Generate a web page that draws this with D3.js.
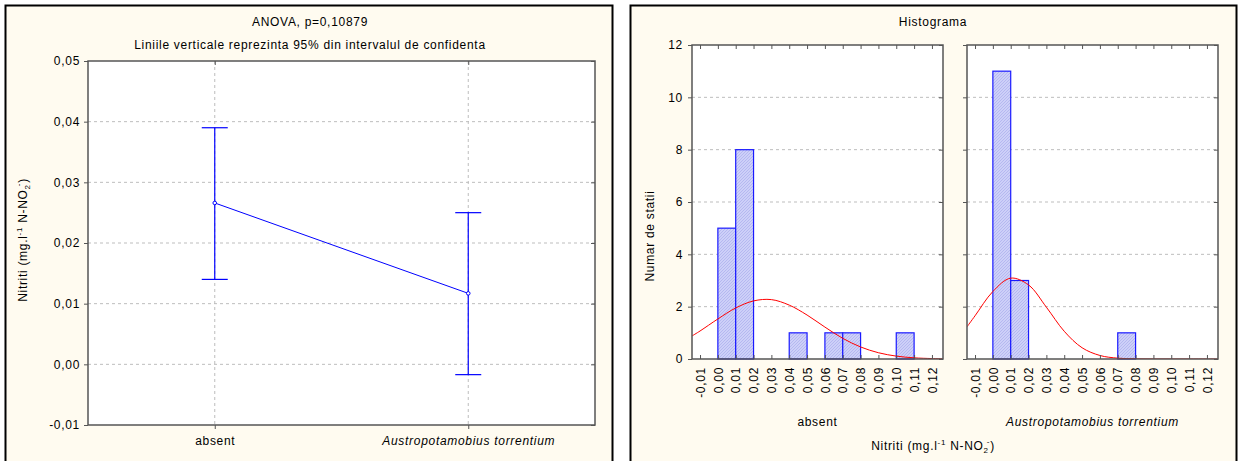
<!DOCTYPE html>
<html><head><meta charset="utf-8">
<script src="https://cdn.jsdelivr.net/npm/d3@7"></script>
<style>
body{margin:0;background:#fff}
text{font-family:Arial,"Liberation Sans",sans-serif;font-size:12px;fill:#000;letter-spacing:0.7px}
</style>
</head><body><svg id="c" width="1239" height="461"></svg>
<script>
// ---------- data ----------
const groups = ["absent", "Austropotamobius torrentium"];
const groupMeans = [0.0266, 0.0117];
const groupLower = [0.0140, -0.0017];
const groupUpper = [0.0390, 0.0250];
const meanTicks = [-0.01, 0.00, 0.01, 0.02, 0.03, 0.04, 0.05];

const binStarts = [0.00, 0.01, 0.02, 0.03, 0.04, 0.05, 0.06, 0.07, 0.08, 0.09, 0.10, 0.11];
const absentCounts = [5, 8, 0, 0, 1, 0, 1, 1, 0, 0, 1, 0];
const torrentiumCounts = [11, 3, 0, 0, 0, 0, 0, 1, 0, 0, 0, 0];
const histXTicks = [-0.01, 0.00, 0.01, 0.02, 0.03, 0.04, 0.05, 0.06, 0.07, 0.08, 0.09, 0.10, 0.11, 0.12];
const histYTicks = [0, 2, 4, 6, 8, 10, 12];

const curveX = [-0.0145, -0.01, 0.00, 0.01, 0.02, 0.03, 0.04, 0.05, 0.06, 0.07, 0.08, 0.09, 0.10, 0.11, 0.12, 0.126];
const absentCurve = [0.88, 1.07, 1.53, 1.95, 2.22, 2.27, 2.06, 1.68, 1.22, 0.79, 0.46, 0.24, 0.11, 0.045, 0.017, 0.008];
const torrentiumCurve = [1.23, 1.65, 2.58, 3.09, 2.83, 1.98, 1.06, 0.43, 0.135, 0.032, 0.006, 0.001, 0, 0, 0, 0];

const panelNames = ["absent", "Austropotamobius torrentium"];

// ---------- drawing ----------
const svg = d3.select("#c");
const cream = "#fffbf0";
const axisCol = "#555";
const gridCol = "#bdbdbd";
const fmt = d => d3.format(".2f")(d).replace(".", ",").replace("\u2212", "-");

// defs: hatch pattern
const defs = svg.append("defs");
const pat = defs.append("pattern").attr("id", "hatch").attr("patternUnits", "userSpaceOnUse")
  .attr("width", 3).attr("height", 3);
pat.append("rect").attr("width", 3).attr("height", 3).attr("fill", "#cdd0f8");
pat.append("path").attr("d", "M0,3 L3,0").attr("stroke", "#aeb2ee").attr("stroke-width", 0.8);

// frames
svg.append("rect").attr("x", 5.5).attr("y", 5.5).attr("width", 607).attr("height", 470)
  .attr("fill", cream).attr("stroke", "#000").attr("stroke-width", 2);
svg.append("rect").attr("x", 630.5).attr("y", 5.5).attr("width", 606).attr("height", 470)
  .attr("fill", cream).attr("stroke", "#000").attr("stroke-width", 2);

// ---------------- LEFT: means plot ----------------
const L = {x0: 88, x1: 595, y0: 61, y1: 425};
const yL = d3.scaleLinear().domain([-0.01, 0.05]).range([L.y1, L.y0]);
const xL = d3.scalePoint().domain(groups).range([L.x0, L.x1]).padding(0.5);

svg.append("rect").attr("x", L.x0).attr("y", L.y0).attr("width", L.x1 - L.x0).attr("height", L.y1 - L.y0)
  .attr("fill", "#fff");

// grid
svg.append("g").selectAll("line").data(meanTicks.slice(1, -1)).join("line")
  .attr("x1", L.x0).attr("x2", L.x1).attr("y1", d => yL(d)).attr("y2", d => yL(d))
  .attr("stroke", gridCol).attr("stroke-dasharray", "3,3");
svg.append("g").selectAll("line").data(groups).join("line")
  .attr("x1", d => xL(d)).attr("x2", d => xL(d)).attr("y1", L.y0).attr("y2", L.y1)
  .attr("stroke", gridCol).attr("stroke-dasharray", "3,3");

// line connecting means
const meanPts = groups.map((g, i) => [xL(g), yL(groupMeans[i])]);
svg.append("path").attr("d", d3.line()(meanPts)).attr("fill", "none").attr("stroke", "#0000ff").attr("stroke-width", 1);

// error bars
const eb = svg.append("g").attr("stroke", "#0000ff").attr("stroke-width", 1.2);
groups.forEach((g, i) => {
  const x = xL(g);
  eb.append("line").attr("x1", x).attr("x2", x).attr("y1", yL(groupLower[i])).attr("y2", yL(groupUpper[i]));
  eb.append("line").attr("x1", x - 13).attr("x2", x + 13).attr("y1", yL(groupLower[i])).attr("y2", yL(groupLower[i]));
  eb.append("line").attr("x1", x - 13).attr("x2", x + 13).attr("y1", yL(groupUpper[i])).attr("y2", yL(groupUpper[i]));
});
svg.append("g").selectAll("circle").data(meanPts).join("circle")
  .attr("cx", d => d[0]).attr("cy", d => d[1]).attr("r", 1.8)
  .attr("fill", "#fff").attr("stroke", "#0000ff").attr("stroke-width", 1);

// border
svg.append("rect").attr("x", L.x0).attr("y", L.y0).attr("width", L.x1 - L.x0).attr("height", L.y1 - L.y0)
  .attr("fill", "none").attr("stroke", axisCol).attr("stroke-width", 1.5);

// axes
svg.append("g").attr("transform", `translate(${L.x0},0)`)
  .call(d3.axisLeft(yL).tickValues(meanTicks).tickFormat(fmt).tickSize(4).tickPadding(4));
const xAxL = svg.append("g").attr("transform", `translate(0,${L.y1})`)
  .call(d3.axisBottom(xL).tickSize(4).tickPadding(7));
svg.append("g").attr("transform", `translate(${L.x1},0)`)
  .call(d3.axisLeft(yL).tickValues(meanTicks).tickFormat("").tickSize(4));
svg.append("g").attr("transform", `translate(0,${L.y0})`)
  .call(d3.axisBottom(xL).tickFormat("").tickSize(4));
svg.selectAll(".domain").remove();
svg.selectAll(".tick line").attr("stroke", axisCol);
svg.selectAll(".tick text").attr("font-size", 12).attr("fill", "#000").attr("font-family", null);
xAxL.selectAll(".tick text").style("font-style", d => d === groups[1] ? "italic" : "normal");

// titles
svg.append("text").attr("x", 310).attr("y", 26).attr("text-anchor", "middle").text("ANOVA, p=0,10879");
svg.append("text").attr("x", 310).attr("y", 49).attr("text-anchor", "middle")
  .text("Liniile verticale reprezinta 95% din intervalul de confidenta");

function nitritLabel(t) {
  t.append("tspan").text("Nitriti (mg.l");
  t.append("tspan").attr("font-size", 8).attr("dy", -5).text("-1");
  t.append("tspan").attr("font-size", 12).attr("dy", 5).text(" N-NO");
  t.append("tspan").attr("font-size", 8).attr("dy", 3).text("2");
  t.append("tspan").attr("font-size", 8).attr("dx", -2).attr("dy", -9).text("-");
  t.append("tspan").attr("font-size", 12).attr("dy", 6).text(")");
}
const ylab = svg.append("text").attr("text-anchor", "middle")
  .attr("transform", "translate(27,240) rotate(-90)");
nitritLabel(ylab);

// ---------------- RIGHT: histograms ----------------
const H = {y0: 45, y1: 359};
const panelsX = [[692, 943], [967, 1218]];
const yH = d3.scaleLinear().domain([0, 12]).range([H.y1, H.y0]);
const countsSets = [absentCounts, torrentiumCounts];
const curveSets = [absentCurve, torrentiumCurve];

svg.append("text").attr("x", 933).attr("y", 26).attr("text-anchor", "middle").text("Histograma");

panelsX.forEach((px, pi) => {
  const xH = d3.scaleLinear().domain([-0.0145, 0.1262]).range(px);
  const g = svg.append("g");
  const cid = "clip" + pi;
  defs.append("clipPath").attr("id", cid).append("rect")
    .attr("x", px[0]).attr("y", H.y0).attr("width", px[1] - px[0]).attr("height", H.y1 - H.y0);

  g.append("rect").attr("x", px[0]).attr("y", H.y0).attr("width", px[1] - px[0]).attr("height", H.y1 - H.y0)
    .attr("fill", "#fff");
  g.append("g").selectAll("line").data(histYTicks.slice(1, -1)).join("line")
    .attr("x1", px[0]).attr("x2", px[1]).attr("y1", d => yH(d)).attr("y2", d => yH(d))
    .attr("stroke", gridCol).attr("stroke-dasharray", "3,3");

  const bins = binStarts.map((b, i) => ({x0: b, x1: b + 0.01, n: countsSets[pi][i]})).filter(d => d.n > 0);
  g.append("g").selectAll("rect").data(bins).join("rect")
    .attr("x", d => xH(d.x0)).attr("width", d => xH(d.x1) - xH(d.x0))
    .attr("y", d => yH(d.n)).attr("height", d => yH(0) - yH(d.n))
    .attr("fill", "url(#hatch)").attr("stroke", "#1a1aff").attr("stroke-width", 1.2);

  const pts = curveX.map((x, i) => [xH(x), yH(curveSets[pi][i])]);
  g.append("path").attr("clip-path", `url(#${cid})`)
    .attr("d", d3.line().curve(d3.curveCatmullRom)(pts))
    .attr("fill", "none").attr("stroke", "#ff0000").attr("stroke-width", 1);

  g.append("rect").attr("x", px[0]).attr("y", H.y0).attr("width", px[1] - px[0]).attr("height", H.y1 - H.y0)
    .attr("fill", "none").attr("stroke", axisCol).attr("stroke-width", 1.5);

  g.append("g").attr("transform", `translate(${px[0]},0)`)
    .call(d3.axisLeft(yH).tickValues(histYTicks).tickFormat(pi === 0 ? d3.format("d") : "").tickSize(4).tickPadding(5));
  g.append("g").attr("transform", `translate(${px[1]},0)`)
    .call(d3.axisLeft(yH).tickValues(histYTicks).tickFormat("").tickSize(4));
  const xa = g.append("g").attr("transform", `translate(0,${H.y1})`)
    .call(d3.axisBottom(xH).tickValues(histXTicks).tickFormat(fmt).tickSize(-4));
  g.append("g").attr("transform", `translate(0,${H.y0})`)
    .call(d3.axisBottom(xH).tickValues(histXTicks).tickFormat("").tickSize(4));
  xa.selectAll(".tick text")
    .attr("transform", "rotate(-90)").attr("x", -8).attr("y", 0).attr("dy", "0.35em")
    .style("text-anchor", "end");
  g.selectAll(".domain").remove();
  g.selectAll(".tick line").attr("stroke", axisCol);
  g.selectAll(".tick text").attr("font-size", 12).attr("fill", "#000").attr("font-family", null);

  g.append("text").attr("x", (px[0] + px[1]) / 2).attr("y", 426).attr("text-anchor", "middle")
    .style("font-style", pi === 1 ? "italic" : "normal").text(panelNames[pi]);
});

svg.append("text").attr("text-anchor", "middle").attr("transform", "translate(654,236) rotate(-90)")
  .text("Numar de statii");
const xlab = svg.append("text").attr("x", 933).attr("y", 450).attr("text-anchor", "middle");
nitritLabel(xlab);
</script>
</body></html>
